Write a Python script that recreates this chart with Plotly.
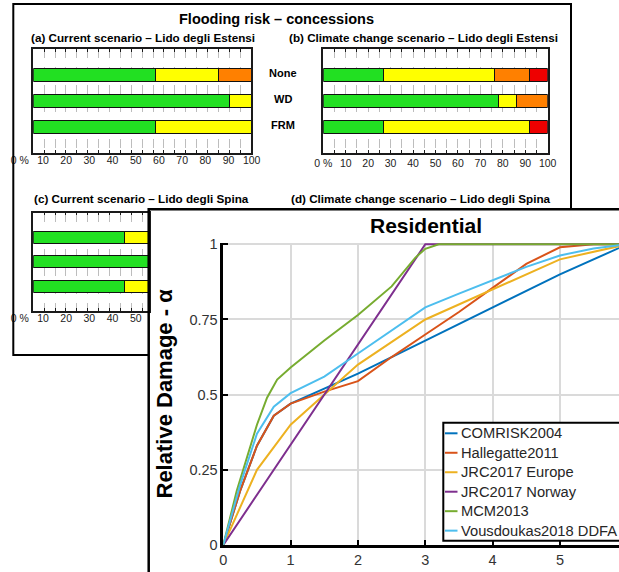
import plotly.graph_objects as go

W, H = 619, 572


def px(x):
    return x / W


def py(y):
    return 1 - y / H


# ---------------- data: flooding risk of concessions (% per risk class) ----------------
categories = ["None", "WD", "FRM"]
risk_classes = ["Low", "Moderate", "High", "Very high"]
risk_colors = ["#22E022", "#FFFF00", "#FF8000", "#EE0000"]

# (a) Current scenario – Lido degli Estensi
a_low = [56, 90, 56]
a_moderate = [29, 10, 44]
a_high = [15, 0, 0]
a_very_high = [0, 0, 0]

# (b) Climate change scenario – Lido degli Estensi
b_low = [27, 78, 27]
b_moderate = [49.5, 8, 65]
b_high = [15.5, 14, 0]
b_very_high = [8, 0, 8]

# (c) Current scenario – Lido degli Spina (right part hidden in the reference)
c_low = [42, 88, 42]
c_moderate = [48, 12, 55]
c_high = [10, 0, 3]
c_very_high = [0, 0, 0]

pct_ticks = list(range(0, 101, 10))
pct_labels = ["0 %", "10", "20", "30", "40", "50", "60", "70", "80", "90", "100"]
pct_minor = list(range(0, 101, 5))

# ---------------- data: residential depth-damage curves ----------------
series_names = ["COMRISK2004", "Hallegatte2011", "JRC2017 Europe",
                "JRC2017 Norway", "MCM2013", "Vousdoukas2018 DDFA"]
series_colors = ["#0072BD", "#D95319", "#EDB120", "#7E2F8E", "#77AC30", "#4DBEEE"]

comrisk_depth = [0, 0.25, 0.5, 0.75, 1, 1.5, 2, 3, 4, 5, 6]
comrisk_damage = [0, 0.18, 0.33, 0.43, 0.47, 0.52, 0.57, 0.68, 0.79, 0.90, 1.0]

hallegatte_depth = [0, 0.25, 0.5, 0.75, 1, 1.5, 2, 2.5, 3, 3.5, 4, 4.5, 5, 5.5, 6]
hallegatte_damage = [0, 0.18, 0.33, 0.43, 0.47, 0.51, 0.545, 0.625, 0.70, 0.775,
                     0.855, 0.935, 0.99, 1.0, 1.0]

jrc_europe_depth = [0, 0.5, 1, 1.5, 2, 3, 4, 5, 6]
jrc_europe_damage = [0, 0.25, 0.40, 0.50, 0.60, 0.75, 0.85, 0.95, 1.0]

jrc_norway_depth = [0, 3, 6]
jrc_norway_damage = [0, 1.0, 1.0]

mcm_depth = [0, 0.2, 0.35, 0.5, 0.65, 0.8, 1, 1.5, 2, 2.5, 2.85, 3, 3.2, 6]
mcm_damage = [0, 0.18, 0.29, 0.40, 0.49, 0.55, 0.59, 0.68, 0.765, 0.86, 0.955,
              0.985, 1.0, 1.0]

vous_depth = [0, 0.25, 0.5, 0.75, 1, 1.5, 2, 2.5, 3, 3.5, 4, 4.5, 5, 5.5, 6]
vous_damage = [0, 0.20, 0.37, 0.46, 0.505, 0.56, 0.637, 0.714, 0.79, 0.836,
               0.88, 0.925, 0.963, 0.986, 1.0]

curves = [(comrisk_depth, comrisk_damage), (hallegatte_depth, hallegatte_damage),
          (jrc_europe_depth, jrc_europe_damage), (jrc_norway_depth, jrc_norway_damage),
          (mcm_depth, mcm_damage), (vous_depth, vous_damage)]

depth_ticks = [0, 1, 2, 3, 4, 5]
damage_ticks = [0, 0.25, 0.5, 0.75, 1]
damage_labels = ["0", "0.25", "0.5", "0.75", "1"]

FONT = "Liberation Sans, Arial, sans-serif"

fig = go.Figure()

# ---------------- bar panels ----------------
panels = [
    ("x", "y", [a_low, a_moderate, a_high, a_very_high]),
    ("x2", "y2", [b_low, b_moderate, b_high, b_very_high]),
    ("x3", "y3", [c_low, c_moderate, c_high, c_very_high]),
]
rows = list(range(len(categories)))
for xa, ya, classes in panels:
    for cls_name, col, vals in zip(risk_classes, risk_colors, classes):
        fig.add_trace(go.Bar(
            x=[v if v else None for v in vals], y=rows, orientation="h",
            name=cls_name, width=0.48,
            marker=dict(color=col, line=dict(color="#111111", width=1)),
            xaxis=xa, yaxis=ya, hoverinfo="skip"))

# dummy traces so that the tick-label axes exist
fig.add_trace(go.Scatter(x=[None], y=[None], xaxis="x5", yaxis="y", showlegend=False))
fig.add_trace(go.Scatter(x=[None], y=[None], xaxis="x6", yaxis="y3", showlegend=False))

# ---------------- depth-damage curves ----------------
for name, col, (dx, dy) in zip(series_names, series_colors, curves):
    fig.add_trace(go.Scatter(x=dx, y=dy, mode="lines", name=name,
                             line=dict(color=col, width=2),
                             xaxis="x4", yaxis="y4"))


def bar_x(domain, rng, anchor, labels=False):
    d = dict(domain=domain, range=rng, anchor=anchor,
             showline=True, linecolor="#1a1a1a", linewidth=1.5, mirror="ticks",
             ticks="inside", ticklen=3, tickwidth=1, tickcolor="#1a1a1a",
             tickvals=pct_minor, showgrid=True, gridcolor="#bdbdbd",
             griddash="dash", gridwidth=1, zeroline=False,
             showticklabels=labels, tickfont=dict(family=FONT, size=10.5, color="#222"))
    if labels:
        d["ticktext"] = [pct_labels[pct_ticks.index(v)] if v in pct_ticks else ""
                         for v in pct_minor]
    return d


def bar_y(domain, anchor):
    return dict(domain=domain, range=[3, -1], anchor=anchor, showline=True,
                linecolor="#1a1a1a", linewidth=1.5, mirror=True,
                showticklabels=False, ticks="", showgrid=False, zeroline=False)


def label_x(domain, rng, anchor):
    return dict(domain=domain, range=rng, anchor=anchor, tickvals=pct_ticks,
                ticktext=pct_labels, showline=False, showgrid=False,
                zeroline=False, ticks="",
                tickfont=dict(family=FONT, size=10.5, color="#222"))


c_right = 148.5
layout = dict(
    width=W, height=H, autosize=False,
    margin=dict(l=0, r=0, t=0, b=0, pad=0, autoexpand=False),
    paper_bgcolor="white", plot_bgcolor="rgba(0,0,0,0)",
    showlegend=False, barmode="stack",
    font=dict(family=FONT, color="#222"),
    xaxis=bar_x([px(33.3), px(251)], [0, 100], "y"),
    yaxis=bar_y([py(152.7), py(49.3)], "x"),
    xaxis2=bar_x([px(323.3), px(547.7)], [0, 100], "y2", labels=True),
    yaxis2=bar_y([py(152.7), py(49.3)], "x2"),
    xaxis3=bar_x([px(33.3), px(c_right)], [0, (c_right - 33.3) / 2.177], "y3"),
    yaxis3=bar_y([py(310.7), py(212.7)], "x3"),
    xaxis5=label_x([px(19.8), px(251.7)], [0, 100], "y"),
    xaxis6=label_x([px(19.8), px(c_right)], [0, (c_right - 19.8) / 2.319], "y3"),
    xaxis4=dict(domain=[px(223.3), 1], range=[0, (W - 223.3) / 67.33], anchor="y4",
                tickvals=depth_ticks, showline=True, linecolor="black", linewidth=2.5,
                ticks="inside", ticklen=5, tickwidth=1.5, tickcolor="black",
                showgrid=True, gridcolor="#dadada", gridwidth=1.5, zeroline=False,
                tickfont=dict(family=FONT, size=14.5, color="#333")),
    yaxis4=dict(domain=[py(545), py(242.8)], range=[0, 1.005], anchor="x4",
                tickvals=damage_ticks, ticktext=damage_labels, showline=True,
                linecolor="black", linewidth=2.5, ticks="inside", ticklen=5,
                tickwidth=1.5, tickcolor="black", showgrid=True,
                gridcolor="#dadada", gridwidth=1.5, zeroline=False,
                tickfont=dict(family=FONT, size=14.5, color="#333")),
)
fig.update_layout(**layout)

shapes = []
# back panel border (visible parts)
shapes.append(dict(type="path", xref="paper", yref="paper",
                   path=f"M {px(148.7)},{py(355)} L {px(13.3)},{py(355)} L {px(13.3)},{py(4)} "
                        f"L {px(571)},{py(4)} L {px(571)},{py(209)}",
                   line=dict(color="black", width=2)))
# front panel border
shapes.append(dict(type="path", xref="paper", yref="paper",
                   path=f"M {px(148.7)},{py(574)} L {px(148.7)},{py(209.3)} L {px(621)},{py(209.3)}",
                   line=dict(color="black", width=2.5)))
# legend box
leg_top, leg_bot, leg_left = 422.7, 540.7, 443.3
shapes.append(dict(type="rect", xref="paper", yref="paper", layer="above",
                   x0=px(leg_left), x1=px(622), y0=py(leg_bot), y1=py(leg_top),
                   line=dict(color="black", width=2), fillcolor="white"))

annotations = []


def txt(x, y, text, size, bold=False, **kw):
    d = dict(x=px(x), y=py(y), xref="paper", yref="paper",
             text=f"<b>{text}</b>" if bold else text, showarrow=False,
             xanchor="center", yanchor="middle",
             font=dict(family=FONT, size=size, color=kw.pop("color", "black")))
    d.update(kw)
    annotations.append(d)


txt(276, 19.5, "Flooding risk – concessions", 14.5, bold=True)
txt(143, 37, "(a) Current scenario – Lido degli Estensi", 11.7, bold=True)
txt(423, 37, "(b) Climate change scenario – Lido degli Estensi", 11.7, bold=True)
txt(141.7, 198, "(c) Current scenario – Lido degli Spina", 11.7, bold=True)
txt(421, 198, "(d) Climate change scenario – Lido degli Spina", 11.7, bold=True)

for i, cat in enumerate(categories):
    annotations.append(dict(x=px(283), y=i, xref="paper", yref="y", text=f"<b>{cat}</b>",
                            showarrow=False, xanchor="center", yanchor="middle", yshift=2,
                            font=dict(family="Liberation Sans Narrow, " + FONT, size=11,
                                      color="black")))

txt(425.8, 225, "Residential", 21, bold=True)
txt(164, 393.5, "Relative Damage - α", 22, bold=True, textangle=-90)

for i, (name, col) in enumerate(zip(series_names, series_colors)):
    yy = 433.3 + 19.47 * i
    shapes.append(dict(type="line", xref="paper", yref="paper", layer="above",
                       x0=px(445), x1=px(457.5), y0=py(yy), y1=py(yy),
                       line=dict(color=col, width=2)))
    txt(459, yy, name, 14.7, xanchor="left", color="#262626")

fig.update_layout(shapes=shapes, annotations=annotations)
fig.write_html("out.html", config={"displayModeBar": False},
               post_script="document.body.style.margin='0';document.body.style.padding='0';")
